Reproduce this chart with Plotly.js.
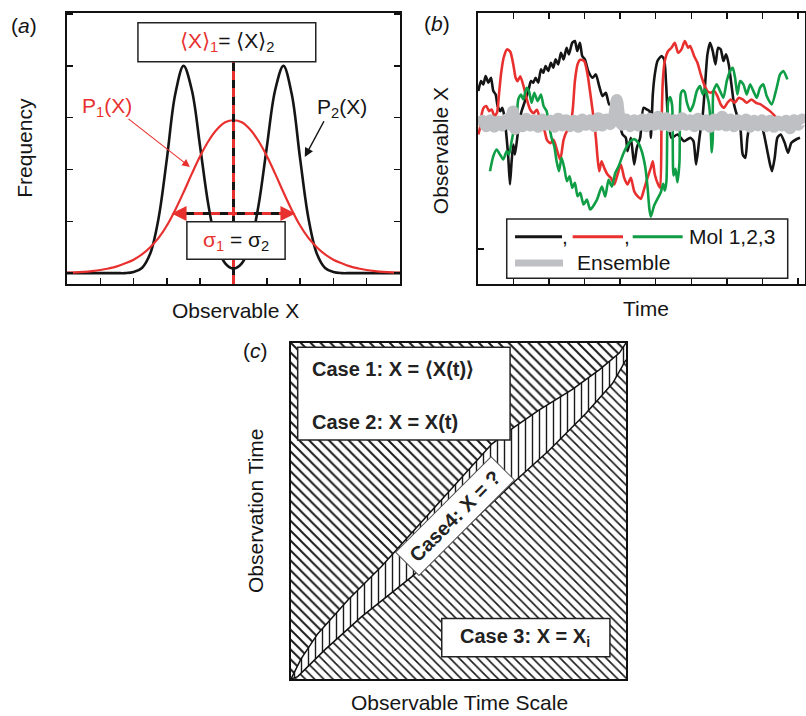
<!DOCTYPE html>
<html><head><meta charset="utf-8">
<script src="https://cdn.plot.ly/plotly-3.0.1.min.js"></script>
<style>body{margin:0;background:#fff}#chart{width:806px;height:716px}</style>
</head><body><div id="chart"></div>
<script>
// ---------- Panel (a): distributions ----------
const obsX = [0,0.25,0.5,0.75,1,1.25,1.5,1.75,2,2.25,2.5,2.75,3,3.25,3.5,3.75,4,4.25,4.5,4.75,5,
  5.25,5.5,5.75,6,6.25,6.5,6.75,7,7.25,7.5,7.75,8,8.25,8.5,8.75,9,9.25,9.5,9.75,10];
const p1 = [0.01,0.015,0.025,0.04,0.06,0.09,0.13,0.19,0.26,0.36,0.50,0.68,0.92,1.22,1.56,1.92,2.26,2.55,2.77,2.91,2.95,
  2.91,2.77,2.55,2.26,1.92,1.56,1.22,0.92,0.68,0.50,0.36,0.26,0.19,0.13,0.09,0.06,0.04,0.025,0.015,0.01];
const p2 = [0,0,0,0,0,0,0,0,0.02,0.10,0.38,1.06,2.21,3.45,4.0,3.53,2.43,1.30,0.54,0.19,0.09,
  0.19,0.54,1.30,2.43,3.53,4.0,3.45,2.21,1.06,0.38,0.10,0.02,0,0,0,0,0,0,0,0];

// ---------- Panel (b): time traces ----------
const mol1Time = [0,8,15,22,30,38,45,52,58,66,72,78,85,90,95,100,105,110,118,125,130,140,150,158,165,172,180,188,195,202,210,218,225,232,240,248,256,265,272,282,290,297,305,312,320,330,343,353,363,373,383,393,403,413,423,433,443,448,458,468,476,486,496,506,514,518,524,530,538,550,558,564,570,580,598,618,636,646,654,664,674,681,688,696,704,712,720,728,736,744,752,760,768,776,786,794,802,808,816,826,836,848,858,868,876,882,890,898,908,920,930,940,954,966];
const mol1X = [473,503,493,518,498,513,473,463,428,413,423,398,333,273,193,263,313,283,343,393,413,443,473,503,498,513,498,538,528,548,533,558,543,568,553,588,568,603,583,618,623,593,618,578,568,533,513,523,488,458,468,433,433,423,383,343,333,293,333,253,303,333,423,418,413,333,463,523,563,578,568,493,383,333,343,323,333,323,253,333,403,493,583,618,593,553,603,598,563,583,553,493,433,403,373,283,273,333,373,363,373,378,343,293,253,233,273,333,343,318,288,318,328,333];
const mol2Time = [0,5,10,16,24,32,40,48,56,62,68,76,86,96,106,112,118,126,136,146,156,166,176,186,196,206,216,226,236,246,256,266,276,284,290,298,306,318,328,338,346,353,358,363,370,378,388,398,408,418,428,438,448,458,468,478,488,498,508,518,524,530,540,546,550,554,560,570,580,590,600,610,620,630,636,648,658,668,678,688,698,708,718,728,738,748,758,770,782,794,806,820,834,848,862,876,888,900];
const mol2X = [343,363,403,423,428,413,418,398,408,463,523,573,598,591,547,513,503,517,487,447,417,407,417,387,367,327,317,327,297,267,327,353,363,423,503,553,567,563,523,453,393,333,273,233,263,243,223,213,193,223,253,213,193,213,173,158,150,180,213,243,263,223,193,183,363,503,563,593,603,618,588,598,623,603,608,578,558,523,493,473,468,473,458,433,423,438,448,438,453,448,438,448,438,433,423,413,401,385];
const mol3Time = [35,45,55,65,75,85,92,100,108,115,120,128,135,145,152,160,168,178,188,196,205,212,220,228,235,242,250,258,266,274,282,290,298,306,316,326,336,356,371,381,391,401,411,421,436,446,456,468,481,491,501,508,514,518,528,538,548,555,560,565,570,576,582,586,592,598,604,608,614,620,626,636,646,656,666,674,681,691,696,701,704,706,716,726,736,746,756,764,771,778,786,796,806,816,826,836,846,856,866,881,896,906,916,928];
const mol3X = [233,278,298,283,268,293,283,323,363,393,448,463,448,483,473,438,468,443,463,428,413,373,333,308,263,233,273,243,203,218,183,198,158,168,133,148,118,147,187,157,207,187,227,247,287,307,322,329,317,292,247,187,117,97,130,150,170,195,175,205,440,455,430,220,240,200,260,465,475,470,440,413,433,473,488,463,478,443,400,290,330,473,493,473,453,503,533,543,513,463,503,493,463,493,473,453,483,493,458,433,483,523,533,508];
const ensTime = [0,12,24,36,48,60,72,84,96,104,110,120,132,144,156,168,180,192,204,216,228,240,252,264,276,288,300,312,324,336,348,360,372,384,396,408,416,424,432,444,456,468,480,492,504,516,528,540,552,564,576,588,600,612,624,636,648,660,672,684,696,708,720,732,744,756,768,780,792,804,816,828,840,852,864,876,888,900,912,924,936,948,960,972,981];
const ensX = [372,384,368,386,366,382,370,388,372,412,360,386,368,390,370,386,366,388,372,384,366,390,370,386,368,384,366,388,372,386,368,392,370,388,374,400,446,392,372,388,368,386,370,388,368,390,372,396,372,392,368,386,370,392,372,386,368,390,372,386,366,388,372,396,370,388,368,386,372,388,366,384,370,386,368,384,366,382,370,384,362,386,372,388,378];

// ---------- Panel (c): regime boundaries ----------
const upperScale = [0,0.03,0.08,0.17,0.27,0.40,0.50,0.60,0.66,0.74,0.84,0.92,0.98,1.0];
const upperTime  = [0,0.06,0.135,0.235,0.335,0.48,0.59,0.70,0.745,0.80,0.862,0.92,0.97,1.0];
const lowerScale = [0,0.02,0.10,0.21,0.36,0.50,0.67,0.77,0.88,0.96,1.0];
const lowerTime  = [0,0.007,0.086,0.185,0.304,0.43,0.59,0.68,0.79,0.88,0.95];

const FONT = 'Liberation Sans, Arial, Helvetica, sans-serif';
const RED = '#e8312f', BLACK = '#151515', GREEN = '#0f9d45', GRAY = '#bfc0c4';

const meanX = obsX.reduce((s, x, i) => s + x * p1[i], 0) / p1.reduce((s, v) => s + v, 0);

const traces = [
  {x: obsX, y: p2, xaxis: 'x', yaxis: 'y', mode: 'lines', line: {color: BLACK, width: 2.6, shape: 'spline', smoothing: 1}},
  {x: obsX, y: p1, xaxis: 'x', yaxis: 'y', mode: 'lines', line: {color: RED, width: 2.2, shape: 'spline', smoothing: 1}},
  {x: mol1Time, y: mol1X, xaxis: 'x2', yaxis: 'y2', mode: 'lines', line: {color: BLACK, width: 2.6, shape: 'spline', smoothing: 0.6}},
  {x: mol2Time, y: mol2X, xaxis: 'x2', yaxis: 'y2', mode: 'lines', line: {color: RED, width: 2.6, shape: 'spline', smoothing: 0.6}},
  {x: mol3Time, y: mol3X, xaxis: 'x2', yaxis: 'y2', mode: 'lines', line: {color: GREEN, width: 2.6, shape: 'spline', smoothing: 0.6}},
  {x: ensTime, y: ensX, xaxis: 'x2', yaxis: 'y2', mode: 'lines', line: {color: GRAY, width: 12, shape: 'spline', smoothing: 0.8}},
];

// Panel (c) hatched regions built from the boundary arrays
const regionA = {x: upperScale.concat([0]), y: upperTime.concat([1])};
const band = {x: upperScale.concat(lowerScale.slice().reverse()), y: upperTime.concat(lowerTime.slice().reverse())};
const regionC = {x: lowerScale.concat([1]), y: lowerTime.concat([0])};
function hatch(reg, shape, size, sol) {
  return {x: reg.x, y: reg.y, xaxis: 'x3', yaxis: 'y3', mode: 'lines', fill: 'toself',
    line: {width: 0, color: 'rgba(0,0,0,0)'}, fillcolor: 'white',
    fillpattern: {shape: shape, size: size, solidity: sol, fgcolor: '#1a1a1a', bgcolor: 'white', fillmode: 'replace'}};
}
traces.push(hatch(regionA, '\\', 7, 0.28));
traces.push(hatch(band, '|', 7, 0.2));
traces.push(hatch(regionC, '\\', 6.5, 0.25));
traces.push({x: upperScale, y: upperTime, xaxis: 'x3', yaxis: 'y3', mode: 'lines', line: {color: '#111', width: 1.5}});
traces.push({x: lowerScale, y: lowerTime, xaxis: 'x3', yaxis: 'y3', mode: 'lines', line: {color: '#111', width: 1.5}});

const axBase = {showgrid: false, zeroline: false, showline: true, linecolor: '#111', linewidth: 2,
  ticks: 'inside', ticklen: 6, tickwidth: 1.5, tickcolor: '#111', showticklabels: false, fixedrange: true};

const shapes = [
  // panel (a) mean line
  {type: 'line', xref: 'x', yref: 'y', x0: meanX, x1: meanX, y0: -0.21, y1: 4.08, line: {color: BLACK, width: 3}},
  {type: 'line', xref: 'x', yref: 'y', x0: meanX, x1: meanX, y0: -0.21, y1: 4.08, line: {color: RED, width: 3, dash: '9px,8px'}},
  // width arrow
  {type: 'line', xref: 'x', yref: 'y', x0: 3.3, x1: 6.7, y0: 1.15, y1: 1.15, line: {color: BLACK, width: 3}},
  {type: 'line', xref: 'x', yref: 'y', x0: 3.3, x1: 6.7, y0: 1.15, y1: 1.15, line: {color: RED, width: 3, dash: '9px,8px'}},
  // boxes
  {type: 'rect', xref: 'x', yref: 'y', x0: 2.13, x1: 7.47, y0: 4.08, y1: 4.83, fillcolor: 'white', line: {color: '#222', width: 1.5}},
  {type: 'rect', xref: 'x', yref: 'y', x0: 3.6, x1: 6.55, y0: 0.27, y1: 0.99, fillcolor: 'white', line: {color: '#222', width: 1.5}},
  // panel (b) legend
  {type: 'rect', xref: 'paper', yref: 'paper', x0: 0.6287, x1: 0.9773, y0: 0.6113, y1: 0.6941, fillcolor: 'white', line: {color: '#222', width: 1.5}},
  {type: 'line', xref: 'paper', yref: 'paper', x0: 0.639, x1: 0.6973, y0: 0.6694, y1: 0.6694, line: {color: BLACK, width: 3}},
  {type: 'line', xref: 'paper', yref: 'paper', x0: 0.7105, x1: 0.7730, y0: 0.6694, y1: 0.6694, line: {color: RED, width: 3}},
  {type: 'line', xref: 'paper', yref: 'paper', x0: 0.7850, x1: 0.8470, y0: 0.6694, y1: 0.6694, line: {color: GREEN, width: 3}},
  {type: 'line', xref: 'paper', yref: 'paper', x0: 0.639, x1: 0.6985, y0: 0.6327, y1: 0.6327, line: {color: GRAY, width: 7}},
  // panel (c) boxes
  {type: 'rect', xref: 'x3', yref: 'y3', x0: 0.020, x1: 0.654, y0: 0.711, y1: 0.987, fillcolor: 'white', line: {color: '#222', width: 1.5}},
  {type: 'rect', xref: 'x3', yref: 'y3', x0: 0.450, x1: 0.952, y0: 0.066, y1: 0.180, fillcolor: 'white', line: {color: '#222', width: 1.5}},
];

const F = (size, color) => ({family: FONT, size: size, color: color || BLACK});
const ann = [
  {xref: 'paper', yref: 'paper', x: 0.0292, y: 0.9637, text: '(<i>a</i>)', showarrow: false, font: F(21)},
  {xref: 'paper', yref: 'paper', x: 0.0304, y: 0.7929, text: 'Frequency', textangle: -90, showarrow: false, font: F(21)},
  {xref: 'paper', yref: 'paper', x: 0.2916, y: 0.567, text: 'Observable X', showarrow: false, font: F(21)},
  {xref: 'x', yref: 'y', x: 4.8, y: 4.455, text: '<span style="color:' + RED + '">⟨X⟩<sub>1</sub></span>= ⟨X⟩<sub>2</sub>', showarrow: false, font: F(21)},
  {xref: 'x', yref: 'y', x: 5.07, y: 0.628, text: '<span style="color:' + RED + '">σ<sub>1</sub></span> = σ<sub>2</sub>', showarrow: false, font: F(21)},
  {xref: 'x', yref: 'y', x: 1.2, y: 3.21, text: 'P<sub>1</sub>(X)', showarrow: false, font: F(21, RED)},
  {xref: 'x', yref: 'y', x: 8.25, y: 3.19, text: 'P<sub>2</sub>(X)', showarrow: false, font: F(21)},
  {xref: 'x', yref: 'y', x: 3.69, y: 2.05, axref: 'x', ayref: 'y', ax: 1.8, ay: 3.0, text: '', showarrow: true, arrowhead: 2, arrowsize: 1.4, arrowwidth: 1.1, arrowcolor: RED},
  {xref: 'x', yref: 'y', x: 7.14, y: 2.24, axref: 'x', ayref: 'y', ax: 7.74, ay: 2.96, text: '', showarrow: true, arrowhead: 2, arrowsize: 1.2, arrowwidth: 1.5, arrowcolor: BLACK},
  {xref: 'x', yref: 'y', x: 3.14, y: 1.15, axref: 'x', ayref: 'y', ax: 3.6, ay: 1.15, text: '', showarrow: true, arrowhead: 2, arrowsize: 1, arrowwidth: 3, arrowcolor: RED},
  {xref: 'x', yref: 'y', x: 6.86, y: 1.15, axref: 'x', ayref: 'y', ax: 6.4, ay: 1.15, text: '', showarrow: true, arrowhead: 2, arrowsize: 1, arrowwidth: 3, arrowcolor: RED},
  // panel (b)
  {xref: 'paper', yref: 'paper', x: 0.5418, y: 0.9665, text: '(<i>b</i>)', showarrow: false, font: F(21)},
  {xref: 'paper', yref: 'paper', x: 0.5465, y: 0.7895, text: 'Observable X', textangle: -90, showarrow: false, font: F(21)},
  {xref: 'paper', yref: 'paper', x: 0.8015, y: 0.5698, text: 'Time', showarrow: false, font: F(21)},
  {xref: 'paper', yref: 'paper', x: 0.701, y: 0.6694, text: ',', showarrow: false, font: F(21)},
  {xref: 'paper', yref: 'paper', x: 0.778, y: 0.6694, text: ',', showarrow: false, font: F(21)},
  {xref: 'paper', yref: 'paper', x: 0.852, y: 0.6694, xanchor: 'left', text: 'Mol 1,2,3', showarrow: false, font: F(21)},
  {xref: 'paper', yref: 'paper', x: 0.7134, y: 0.6327, xanchor: 'left', text: 'Ensemble', showarrow: false, font: F(21)},
  // panel (c)
  {xref: 'paper', yref: 'paper', x: 0.3164, y: 0.5098, text: '(<i>c</i>)', showarrow: false, font: F(21)},
  {xref: 'paper', yref: 'paper', x: 0.3164, y: 0.2863, text: 'Observation Time', textangle: -90, showarrow: false, font: F(21)},
  {xref: 'paper', yref: 'paper', x: 0.5695, y: 0.0, yanchor: 'bottom', text: 'Observable Time Scale', showarrow: false, font: F(21)},
  {xref: 'x3', yref: 'y3', x: 0.057, y: 0.923, xanchor: 'left', text: '<b>Case 1: X = ⟨X(t)⟩</b>', showarrow: false, font: F(20, '#222')},
  {xref: 'x3', yref: 'y3', x: 0.057, y: 0.766, xanchor: 'left', text: '<b>Case 2: X = X(t)</b>', showarrow: false, font: F(20, '#222')},
  {xref: 'x3', yref: 'y3', x: 0.70, y: 0.124, text: '<b>Case 3: X = X<sub>i</sub></b>', showarrow: false, font: F(20, '#222')},
  {xref: 'x3', yref: 'y3', x: 0.49, y: 0.485, text: '<b>Case4: X = ?</b>', textangle: -45, showarrow: false,
    bgcolor: 'white', bordercolor: '#555', borderwidth: 1, width: 132, height: 30, borderpad: 1, font: F(20, '#222')},
].map(a => Object.assign({xanchor: 'center', yanchor: 'middle'}, a));

const layout = {
  width: 806, height: 716, margin: {l: 0, r: 0, t: 0, b: 0},
  paper_bgcolor: 'white', plot_bgcolor: 'white', showlegend: false,
  xaxis: Object.assign({}, axBase, {domain: [0.08313, 0.49628], range: [0, 10], tick0: 0, dtick: 1, mirror: true, anchor: 'y'}),
  yaxis: Object.assign({}, axBase, {domain: [0.60335, 0.98184], range: [-0.21, 5.02], tick0: 0, dtick: 1, mirror: 'ticks', anchor: 'x'}),
  xaxis2: Object.assign({}, axBase, {domain: [0.59305, 0.99876], range: [-1, 981], tick0: 106, dtick: 106.7, mirror: 'ticks', anchor: 'y2'}),
  yaxis2: Object.assign({}, axBase, {domain: [0.60335, 0.98184], range: [-105, 707], tickmode: 'array', tickvals: [0], mirror: true, anchor: 'x2'}),
  xaxis3: Object.assign({}, axBase, {domain: [0.36104, 0.77667], range: [0, 1], ticks: '', mirror: true, anchor: 'y3'}),
  yaxis3: Object.assign({}, axBase, {domain: [0.05168, 0.52095], range: [0, 1], ticks: '', mirror: true, anchor: 'x3'}),
  shapes: shapes, annotations: ann
};

Plotly.newPlot('chart', traces, layout, {displayModeBar: false, staticPlot: true});
</script>
</body></html>
